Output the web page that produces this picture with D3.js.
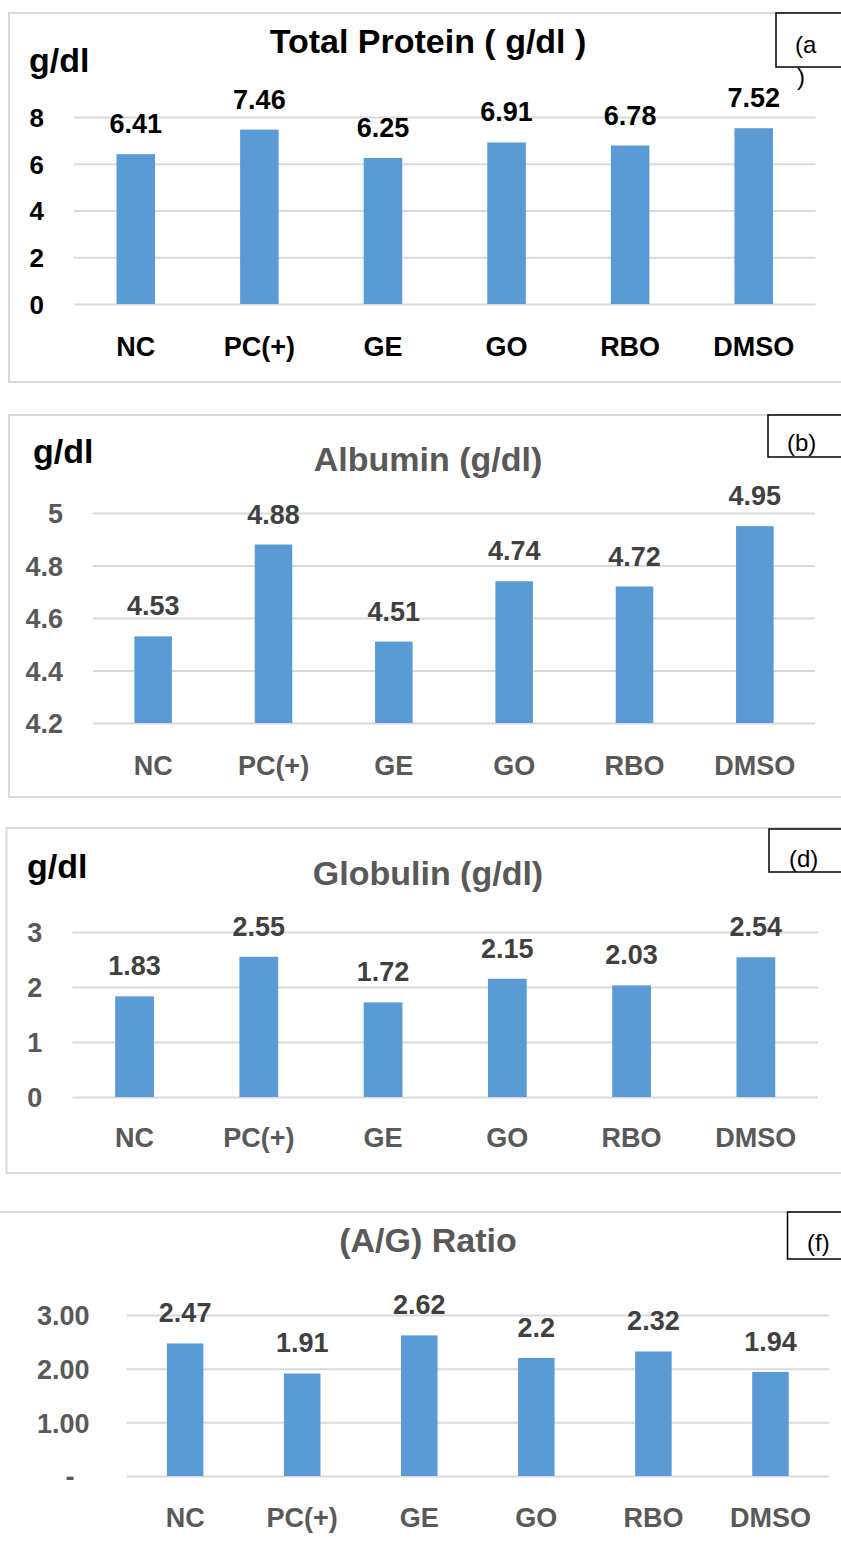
<!DOCTYPE html>
<html>
<head>
<meta charset="utf-8">
<script src="https://cdn.jsdelivr.net/npm/d3@7"></script>
<style>
  body { margin: 0; background: #fff; }
  svg text { font-family: "Liberation Sans", Arial, sans-serif; font-weight: bold; }
</style>
</head>
<body>
<svg id="chart" width="841" height="1547"></svg>
<script>
// data
var categories = ["NC", "PC(+)", "GE", "GO", "RBO", "DMSO"];
var totalProtein = [6.41, 7.46, 6.25, 6.91, 6.78, 7.52];
var albumin = [4.53, 4.88, 4.51, 4.74, 4.72, 4.95];
var globulin = [1.83, 2.55, 1.72, 2.15, 2.03, 2.54];
var agRatio = [2.47, 1.91, 2.62, 2.2, 2.32, 1.94];

var totalProteinTicks = [0, 2, 4, 6, 8];
var albuminTicks = [4.2, 4.4, 4.6, 4.8, 5];
var globulinTicks = [0, 1, 2, 3];
var agRatioTicks = [0, 1, 2, 3];
var agRatioTickLabels = ["-", "1.00", "2.00", "3.00"];

var titles = ["Total Protein ( g/dl )", "Albumin (g/dl)", "Globulin (g/dl)", "(A/G) Ratio"];
var panelTags = ["(a", "(b)", "(d)", "(f)"];

var barColor = "#5b9bd5";
var gridColor = "#d9d9d9";

// layout of each panel (pixels only, no data)
var panels = [
  {values: totalProtein, ticks: totalProteinTicks, labels: null, title: titles[0], tag: panelTags[0],
   border: [9, 13, 900, 369], gx: [74, 815.5], gy: [304, 117], domain: [0, 8],
   titleY: 53, titleColor: "#000", unit: [29, 72], tickPad: 30, tickSize: 26, tickColor: "#000",
   valColor: "#000", catColor: "#000", catY: 356, tagBox: [776, 13, 80, 54], tagText: [795, 53]},
  {values: albumin, ticks: albuminTicks, labels: null, title: titles[1], tag: panelTags[1],
   border: [9, 415, 900, 382], gx: [93, 815], gy: [723, 513], domain: [4.2, 5],
   titleY: 471, titleColor: "#595959", unit: [33, 463], tickPad: 30, tickSize: 27, tickColor: "#595959",
   valColor: "#404040", catColor: "#595959", catY: 775, tagBox: [768, 415, 80, 42], tagText: [787, 451]},
  {values: globulin, ticks: globulinTicks, labels: null, title: titles[2], tag: panelTags[2],
   border: [6.5, 828, 900, 345], gx: [72.4, 818], gy: [1097, 932], domain: [0, 3],
   titleY: 885, titleColor: "#595959", unit: [27, 878], tickPad: 30, tickSize: 27, tickColor: "#595959",
   valColor: "#404040", catColor: "#595959", catY: 1147, tagBox: [769, 829, 80, 43], tagText: [789, 867]},
  {values: agRatio, ticks: agRatioTicks, labels: agRatioTickLabels, title: titles[3], tag: panelTags[3],
   border: [-10, 1212, 900, 400], gx: [126.6, 829], gy: [1476, 1315], domain: [0, 3],
   titleY: 1252, titleColor: "#595959", unit: null, tickPad: 37, tickSize: 27, tickColor: "#595959",
   valColor: "#404040", catColor: "#595959", catY: 1527, tagBox: [787.5, 1212, 80, 47], tagText: [807, 1251]}
];

var svg = d3.select("#chart");

panels.forEach(function(p) {
  var g = svg.append("g");

  // chart area frame
  g.append("rect")
    .attr("x", p.border[0]).attr("y", p.border[1])
    .attr("width", p.border[2]).attr("height", p.border[3])
    .attr("fill", "none").attr("stroke", gridColor).attr("stroke-width", 2);

  var x = d3.scaleBand()
    .domain(categories)
    .range(p.gx)
    .paddingInner(0.688)
    .paddingOuter(0.344);

  var y = d3.scaleLinear().domain(p.domain).range(p.gy);

  // y axis + gridlines
  var yAxis = d3.axisLeft(y)
    .tickValues(p.ticks)
    .tickSize(-(p.gx[1] - p.gx[0]))
    .tickPadding(p.tickPad)
    .tickFormat(function(d, i) { return p.labels ? p.labels[i] : String(d); });

  var ya = g.append("g")
    .attr("transform", "translate(" + p.gx[0] + ",0)")
    .call(yAxis);
  ya.select(".domain").remove();
  ya.selectAll(".tick line").attr("stroke", gridColor).attr("stroke-width", 2);
  ya.selectAll(".tick text")
    .attr("fill", p.tickColor)
    .attr("font-size", p.tickSize)
    .attr("dy", "0.36em")
    .attr("font-family", null);
  if (p.labels) {
    // accounting style dash for zero sits further left
    ya.selectAll(".tick text").filter(function(d) { return d === 0; })
      .attr("dx", -15);
  }

  // bars
  g.selectAll("rect.bar")
    .data(p.values)
    .enter().append("rect")
    .attr("class", "bar")
    .attr("x", function(d, i) { return x(categories[i]); })
    .attr("width", x.bandwidth())
    .attr("y", function(d) { return y(d); })
    .attr("height", function(d) { return y(p.domain[0]) - y(d); })
    .attr("fill", barColor);

  // value labels
  g.selectAll("text.val")
    .data(p.values)
    .enter().append("text")
    .attr("class", "val")
    .attr("x", function(d, i) { return x(categories[i]) + x.bandwidth() / 2; })
    .attr("y", function(d) { return y(d) - 21; })
    .attr("text-anchor", "middle")
    .attr("font-size", 27)
    .attr("fill", p.valColor)
    .text(function(d) { return String(d); });

  // category axis
  var xa = g.append("g")
    .attr("transform", "translate(0," + p.catY + ")")
    .call(d3.axisBottom(x).tickSize(0).tickPadding(0));
  xa.select(".domain").remove();
  xa.selectAll(".tick text")
    .attr("y", 0).attr("dy", 0)
    .attr("font-size", 27)
    .attr("font-family", null)
    .attr("fill", p.catColor);

  // title
  g.append("text")
    .attr("x", 428).attr("y", p.titleY)
    .attr("text-anchor", "middle")
    .attr("font-size", 34)
    .attr("fill", p.titleColor)
    .text(p.title);

  if (p.unit) {
    g.append("text")
      .attr("x", p.unit[0]).attr("y", p.unit[1])
      .attr("font-size", 34)
      .attr("fill", "#000")
      .text("g/dl");
  }

  // little tag box in the corner
  g.append("rect")
    .attr("x", p.tagBox[0]).attr("y", p.tagBox[1])
    .attr("width", p.tagBox[2]).attr("height", p.tagBox[3])
    .attr("fill", "#fff").attr("stroke", "#000").attr("stroke-width", 1.5);
  g.append("text")
    .attr("x", p.tagText[0]).attr("y", p.tagText[1])
    .attr("font-size", 24)
    .style("font-weight", "normal")
    .attr("fill", "#000")
    .text(p.tag);
});

// the wrapped ")" under the (a box
svg.append("text")
  .attr("x", 797).attr("y", 85)
  .attr("font-size", 24)
  .style("font-weight", "normal")
  .attr("fill", "#000")
  .text(")");
</script>
</body>
</html>
